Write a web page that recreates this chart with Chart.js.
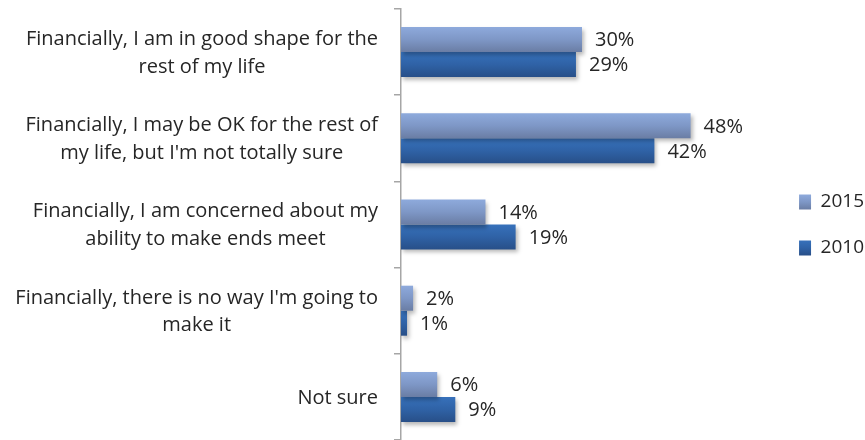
<!DOCTYPE html>
<html><head><meta charset="utf-8">
<script src="https://cdn.jsdelivr.net/npm/chart.js@4"></script>
<style>html,body{margin:0;padding:0;background:#fff}</style>
</head><body>
<canvas id="c" width="865" height="440"></canvas>
<script>
const categories = [
  ["Financially, I am in good shape for the", "rest of my life"],
  ["Financially, I may be OK for the rest of", "my life, but I'm not totally sure"],
  ["Financially, I am concerned about my", "ability to make ends meet"],
  ["Financially, there is no way I'm going to", "make it"],
  ["Not sure"]
];
const seriesNames = ["2015", "2010"];
const values2015 = [30, 48, 14, 2, 6];
const values2010 = [29, 42, 19, 1, 9];

const FONT = "'Open Sans', 'Noto Sans', sans-serif";
const FSIZE = 20;
const LSIZE = 19;
const TEXT = '#262626';
const grads = [
  ['#8eaadc', '#7e97c6', '#6a7da4'],
  ['#3771bb', '#2f62a6', '#284f88']
];
function makeGrad(ctx, top, bottom, stops) {
  const g = ctx.createLinearGradient(0, top, 0, bottom);
  g.addColorStop(0, stops[0]);
  g.addColorStop(0.5, stops[1]);
  g.addColorStop(1, stops[2]);
  return g;
}

const barStyle = {
  id: 'barStyle',
  beforeDraw(chart) {
    const ctx = chart.ctx;
    chart.data.datasets.forEach((ds, di) => {
      chart.getDatasetMeta(di).data.forEach(el => {
        const p = el.getProps(['y', 'height'], true);
        el.options.backgroundColor = makeGrad(ctx, p.y - p.height / 2, p.y + p.height / 2, grads[di]);
      });
    });
    const lg = chart.legend;
    if (lg && lg.legendItems && lg.legendHitBoxes) {
      lg.legendItems.forEach((it, i) => {
        const hb = lg.legendHitBoxes[i];
        if (!hb) return;
        const top = hb.top + Math.max((LSIZE - 15) / 2, 0);
        it.fillStyle = makeGrad(ctx, top, top + 15, grads[it.datasetIndex]);
      });
    }
  },
  beforeDatasetDraw(chart) {
    const ctx = chart.ctx;
    ctx.save();
    ctx.shadowColor = 'rgba(0,0,0,0.28)';
    ctx.shadowBlur = 4;
    ctx.shadowOffsetX = 2;
    ctx.shadowOffsetY = 3;
  },
  afterDatasetDraw(chart) {
    chart.ctx.restore();
  },
  afterDatasetsDraw(chart) {
    const ctx = chart.ctx;
    ctx.save();
    ctx.font = FSIZE + 'px ' + FONT;
    ctx.fillStyle = TEXT;
    ctx.textAlign = 'left';
    ctx.textBaseline = 'middle';
    chart.data.datasets.forEach((ds, di) => {
      chart.getDatasetMeta(di).data.forEach((el, i) => {
        const p = el.getProps(['x', 'y'], true);
        ctx.fillText(ds.data[i] + '%', p.x + 13, p.y + 1);
      });
    });
    ctx.restore();
  },
  afterDraw(chart) {
    const ys = chart.scales.y;
    const ctx = chart.ctx;
    ctx.save();
    ctx.font = FSIZE + 'px ' + FONT;
    ctx.fillStyle = TEXT;
    ctx.textAlign = 'center';
    ctx.textBaseline = 'middle';
    const right = ys.right - ys.options.grid.tickLength - ys.options.ticks.padding;
    const lh = 27.5;
    categories.forEach((lines, i) => {
      const cy = ys.getPixelForValue(i) + 1;
      const w = Math.max(...lines.map(l => ctx.measureText(l).width));
      const cx = right - w / 2;
      lines.forEach((l, j) => {
        ctx.fillText(l, cx, cy + (j - (lines.length - 1) / 2) * lh);
      });
    });
    ctx.restore();
  }
};

new Chart(document.getElementById('c'), {
  type: 'bar',
  data: {
    labels: categories,
    datasets: [
      { label: seriesNames[0], data: values2015, backgroundColor: () => '#8eaadc', borderWidth: 0 },
      { label: seriesNames[1], data: values2010, backgroundColor: () => '#3771bb', borderWidth: 0 }
    ]
  },
  plugins: [barStyle],
  options: {
    indexAxis: 'y',
    responsive: false,
    animation: false,
    devicePixelRatio: 1,
    layout: { padding: { top: 9, bottom: -1, left: 0, right: -9 } },
    datasets: { bar: { categoryPercentage: 0.58, barPercentage: 1.0 } },
    scales: {
      x: { display: false, min: 0, max: 61.5 },
      y: {
        afterFit: s => { s.width = 401; },
        grid: { display: true, drawOnChartArea: false, offset: true, tickLength: 7, color: '#a6a6a6', lineWidth: 1.5 },
        border: { display: true, color: '#a6a6a6', width: 1.5 },
        ticks: { display: false, padding: 16, font: { family: FONT, size: FSIZE } }
      }
    },
    plugins: {
      tooltip: { enabled: false },
      legend: {
        position: 'right',
        labels: {
          boxWidth: 12, boxHeight: 15, padding: 27,
          color: TEXT,
          font: { family: FONT, size: LSIZE }
        }
      }
    }
  }
});
</script>
</body></html>
